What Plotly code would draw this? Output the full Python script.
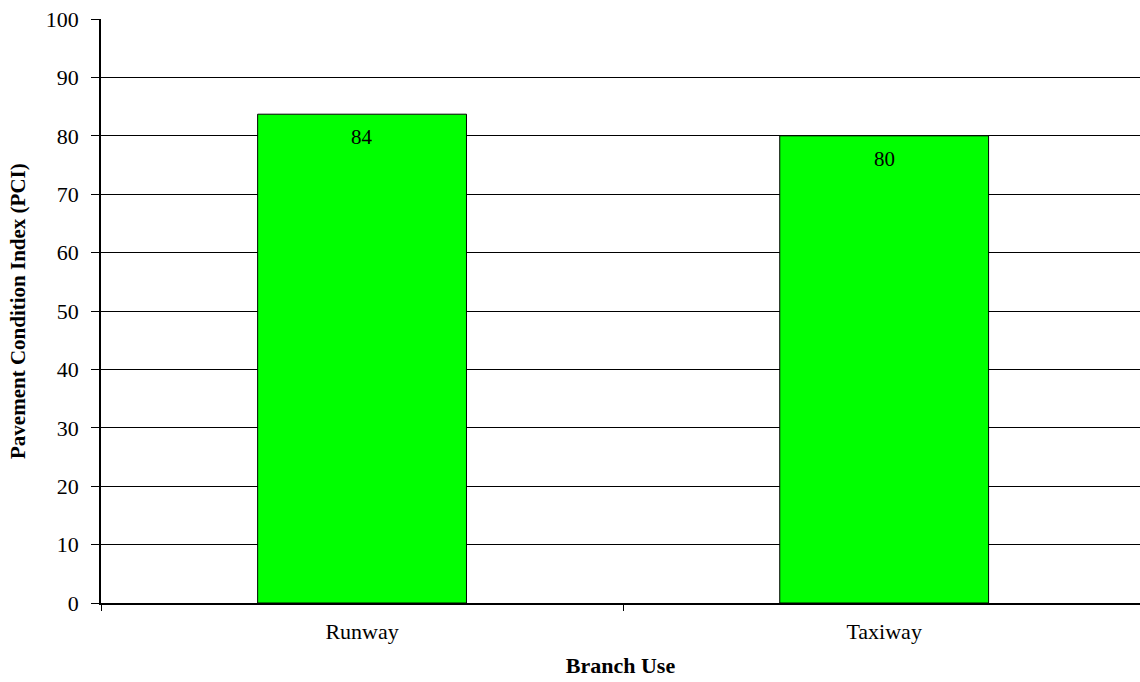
import plotly.graph_objects as go

categories = ["Runway", "Taxiway"]
pci_values = [83.7, 80.0]
pci_labels = ["84", "80"]
y_ticks = list(range(0, 101, 10))
y_title = "Pavement Condition Index (PCI)"
x_title = "Branch Use"

FONT = "Liberation Serif, Times New Roman, serif"

fig = go.Figure()
fig.add_trace(go.Bar(
    x=categories,
    y=pci_values,
    width=0.4,
    marker=dict(color="#00FF00", line=dict(color="black", width=1)),
    hoverinfo="x+y",
))

for c, v, t in zip(categories, pci_values, pci_labels):
    fig.add_annotation(x=c, y=v, text=t, showarrow=False, yanchor="top",
                       yshift=-9, font=dict(family=FONT, size=21, color="black"))

fig.add_annotation(xref="paper", yref="paper", x=0, y=0.5, xanchor="center", yanchor="middle",
                   xshift=-83, textangle=-90, showarrow=False, text=f"<b>{y_title}</b>",
                   font=dict(family=FONT, size=21, color="black"))

fig.update_layout(
    width=1140, height=682,
    margin=dict(l=101, r=0, t=19, b=79),
    plot_bgcolor="white", paper_bgcolor="white",
    showlegend=False,
    font=dict(family=FONT, size=22, color="black"),
    xaxis=dict(
        type="category",
        range=[-0.5, 1.49],
        showline=True, linecolor="black", linewidth=1.5,
        ticks="outside", tickson="boundaries", ticklen=6, tickcolor="black", tickwidth=1,
        showgrid=False,
        ticklabelstandoff=8,
        title=dict(text=f"<b>{x_title}</b>", font=dict(family=FONT, size=22), standoff=14),
        tickfont=dict(family=FONT, size=22),
    ),
    yaxis=dict(
        range=[0, 100],
        tickvals=y_ticks,
        showline=True, linecolor="black", linewidth=1.5,
        ticks="outside", ticklen=8, tickcolor="black", tickwidth=1,
        showgrid=True, gridcolor="black", gridwidth=1,
        zeroline=False,
        ticklabelstandoff=8,
        tickfont=dict(family=FONT, size=22),
    ),
)

fig.write_html("out.html")
